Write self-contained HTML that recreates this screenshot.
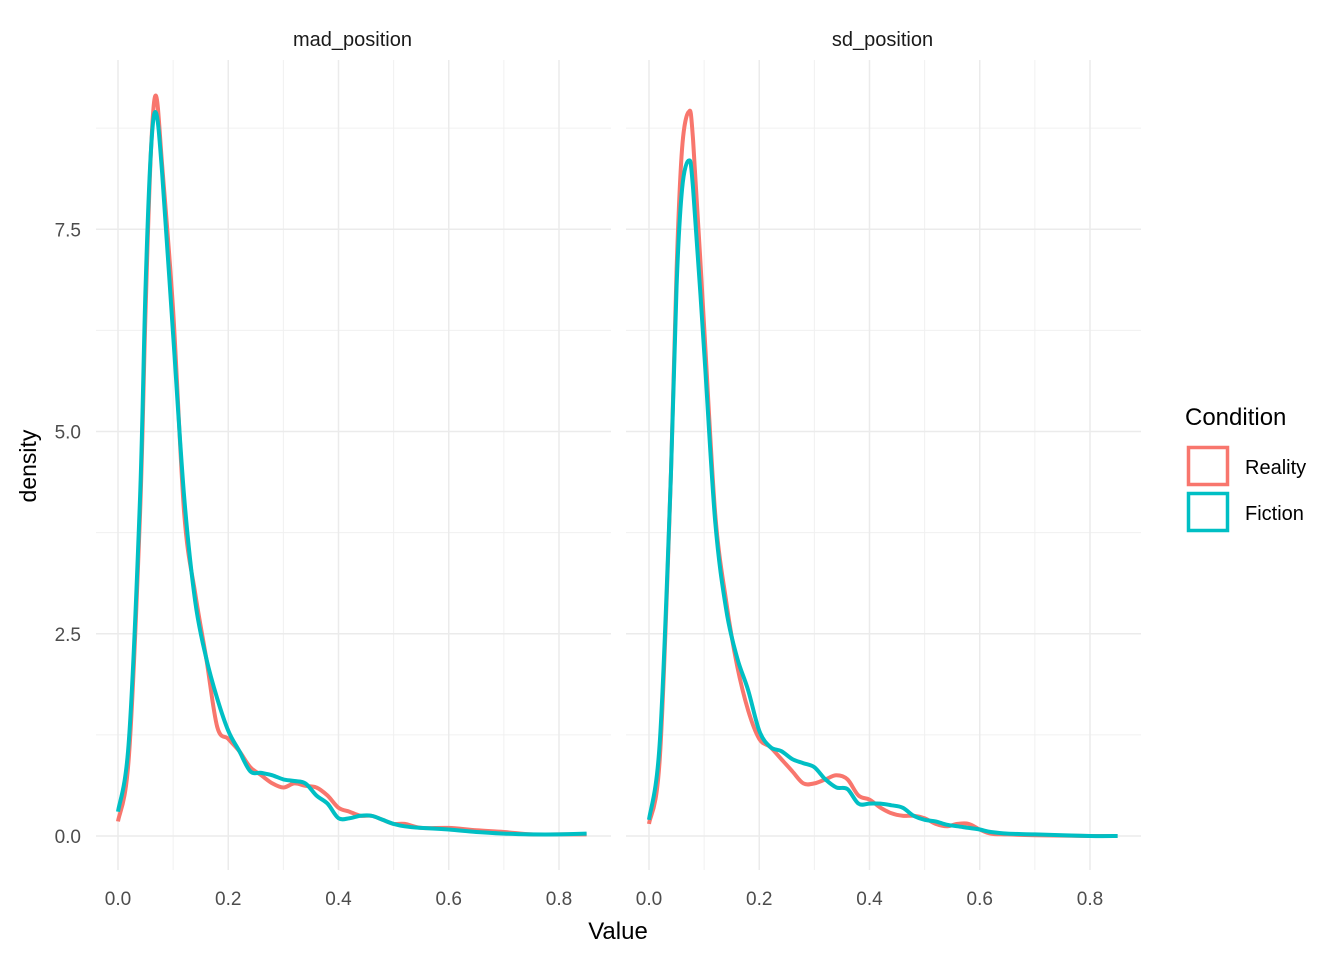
<!DOCTYPE html>
<html><head><meta charset="utf-8"><style>
body{margin:0;background:#fff;}
svg{display:block;font-family:"Liberation Sans",Arial,sans-serif;}
</style></head><body>
<svg id="chart" width="1344" height="960" viewBox="0 0 1344 960">
<g id="panels"></g>
<text x="36" y="466" font-size="23" text-anchor="middle" transform="rotate(-90 36 466)" fill="#000">density</text>
<text x="618" y="939" font-size="24" text-anchor="middle" fill="#000">Value</text>
<g>
<text x="1185" y="425" font-size="24" fill="#000">Condition</text>
<rect x="1188.5" y="447.5" width="39" height="37" fill="none" stroke="#F8766D" stroke-width="3.5"/>
<text x="1245" y="474" font-size="20" fill="#000">Reality</text>
<rect x="1188.5" y="493.5" width="39" height="37" fill="none" stroke="#00BFC4" stroke-width="3.5"/>
<text x="1245" y="520" font-size="20" fill="#000">Fiction</text>
</g>
</svg>
<script>
const xTicks=[0,0.2,0.4,0.6,0.8];
const xTickLabels=["0.0","0.2","0.4","0.6","0.8"];
const yTicks=[0,2.5,5,7.5];
const yTickLabels=["0.0","2.5","5.0","7.5"];
const panelNames=["mad_position","sd_position"];
const madX=[0,0.02,0.04,0.05,0.06,0.069,0.08,0.1,0.12,0.14,0.16,0.18,0.2,0.22,0.24,0.26,0.28,0.3,0.32,0.34,0.36,0.38,0.4,0.42,0.44,0.46,0.48,0.5,0.52,0.55,0.6,0.65,0.7,0.75,0.8,0.85];
const madReality=[0.18,1.0,4.0,6.5,8.5,9.15,8.3,6.5,4.0,3.0,2.2,1.35,1.2,1.05,0.85,0.75,0.65,0.6,0.65,0.62,0.6,0.5,0.35,0.3,0.25,0.25,0.2,0.15,0.15,0.1,0.1,0.07,0.05,0.02,0.02,0.02];
const madFiction=[0.3,1.2,4.2,6.8,8.5,8.94,8.2,6.2,4.2,2.9,2.2,1.7,1.3,1.05,0.8,0.78,0.75,0.7,0.68,0.65,0.5,0.4,0.22,0.22,0.25,0.25,0.2,0.15,0.12,0.1,0.08,0.05,0.03,0.02,0.02,0.03];
const sdX=[0,0.02,0.04,0.05,0.06,0.072,0.08,0.1,0.12,0.14,0.16,0.18,0.2,0.22,0.24,0.26,0.28,0.3,0.32,0.34,0.36,0.38,0.4,0.42,0.44,0.46,0.48,0.5,0.52,0.54,0.56,0.58,0.6,0.62,0.65,0.7,0.8,0.85];
const sdReality=[0.15,1.0,4.5,7.0,8.5,8.95,8.6,6.3,4.0,2.9,2.1,1.55,1.2,1.1,0.95,0.8,0.65,0.65,0.7,0.75,0.7,0.5,0.45,0.35,0.28,0.25,0.25,0.22,0.15,0.12,0.15,0.15,0.08,0.03,0.02,0.01,0.0,0.0];
const sdFiction=[0.2,1.2,4.5,6.8,8.0,8.35,8.0,6.0,3.9,2.8,2.2,1.8,1.3,1.1,1.05,0.95,0.9,0.85,0.7,0.6,0.58,0.4,0.4,0.4,0.38,0.35,0.25,0.2,0.18,0.14,0.12,0.1,0.08,0.05,0.03,0.02,0.0,0.0];
const panelX=[madX,sdX];
const panelReality=[madReality,sdReality];
const panelFiction=[madFiction,sdFiction];

const NS="http://www.w3.org/2000/svg";
const panelLeft=[96,626],panelWidth=515,zeroX=[118,649],pxPerUnit=551.25;
const y0=836,pxPerY=80.9,pTop=60,pBot=870;
function yScale(v){return y0-v*pxPerY;}
function mk(tag,attrs,parent){const e=document.createElementNS(NS,tag);for(const k in attrs)e.setAttribute(k,attrs[k]);parent.appendChild(e);return e;}
function smoothPath(P){
  let d='M'+P[0][0].toFixed(1)+','+P[0][1].toFixed(1);
  for(let i=0;i<P.length-1;i++){
    const p0=P[i-1]||P[i],p1=P[i],p2=P[i+1],p3=P[i+2]||p2;
    const c1=[p1[0]+(p2[0]-p0[0])/6,p1[1]+(p2[1]-p0[1])/6];
    const c2=[p2[0]-(p3[0]-p1[0])/6,p2[1]-(p3[1]-p1[1])/6];
    d+=' C'+c1.map(v=>v.toFixed(1)).join(',')+' '+c2.map(v=>v.toFixed(1)).join(',')+' '+p2[0].toFixed(1)+','+p2[1].toFixed(1);
  }
  return d;
}
const root=document.getElementById('panels');
panelNames.forEach((name,p)=>{
  const xScale=v=>zeroX[p]+v*pxPerUnit;
  const g=mk('g',{},root);
  
  
  const L=panelLeft[p],R=L+panelWidth;
  for(let i=0;i<xTicks.length;i++){const v=xTicks[i]+0.1;const x=xScale(v);if(x<R){const l=mk('line',{x1:x,x2:x,y1:pTop,y2:pBot,stroke:'#f0f0f0','stroke-width':1},g);}}
  for(let i=0;i<yTicks.length;i++){const y=yScale(yTicks[i]+1.25);const l=mk('line',{x1:L,x2:R,y1:y,y2:y,stroke:'#f0f0f0','stroke-width':1},g);}
  xTicks.forEach((v,i)=>{const x=xScale(v);
    const l=mk('line',{x1:x,x2:x,y1:pTop,y2:pBot,stroke:'#ebebeb','stroke-width':1.5},g);
    
    
    const t=mk('text',{x:x,y:905,'font-size':19,'text-anchor':'middle',fill:'#4d4d4d'},g);t.textContent=xTickLabels[i];
    
    });
  yTicks.forEach((v,i)=>{const y=yScale(v);
    const l=mk('line',{x1:L,x2:R,y1:y,y2:y,stroke:'#ebebeb','stroke-width':1.5},g);
    
    
    if(p===0){const t=mk('text',{x:81,y:y+7,'font-size':19,'text-anchor':'end',fill:'#4d4d4d'},g);t.textContent=yTickLabels[i];
    
    }});
  const st=mk('text',{x:(L+R)/2-1,y:46,'font-size':20,'text-anchor':'middle',fill:'#1a1a1a'},g);st.textContent=name;
  
  
  [[panelReality[p],'#F8766D','reality'],[panelFiction[p],'#00BFC4','fiction']].forEach(([ys,c,n])=>{
    const P=panelX[p].map((v,i)=>[xScale(v),yScale(ys[i])]);
    const pl=mk('path',{d:smoothPath(P),fill:'none',stroke:c,'stroke-width':4,'stroke-linejoin':'round'},g);
    
    
  });
});
</script>
</body></html>
